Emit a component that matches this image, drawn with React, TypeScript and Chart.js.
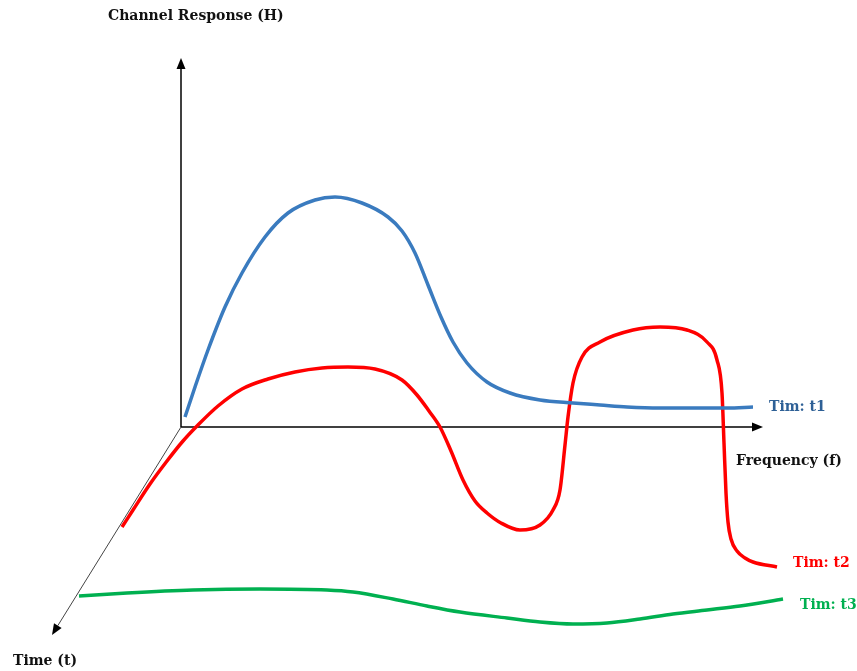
import React, { useEffect, useRef } from "react";
import { Chart, registerables } from "chart.js";

Chart.register(...registerables);

// Coordinates: frequency (x) and response (y), origin at the axes' corner
const t1Freq = [4, 14, 27, 44, 61, 84, 107, 134, 154, 181, 207, 221, 234, 247, 260, 272, 286, 306, 329, 359, 392, 419, 446, 479, 512, 546, 572];
const t1Resp = [10, 40, 77, 120, 154, 190, 214, 227, 230, 224, 210, 196, 174, 142, 110, 85, 64, 45, 34, 27, 24, 22, 20, 19, 19, 19, 20];

const t2Freq = [-59, -48, -31, -14, 2, 17, 37, 61, 87, 114, 141, 167, 194, 221, 236, 248, 259, 270, 282, 294, 306, 320, 339, 359, 372, 379, 384, 387, 392, 401, 419, 452, 479, 506, 526, 536, 541, 543, 545, 547, 550, 556, 564, 572, 596];
const t2Resp = [-100, -83, -57, -34, -14, 2, 21, 38, 48, 55, 59, 60, 58, 47, 32, 16, 0, -24, -53, -74, -86, -96, -103, -98, -83, -63, -18, 10, 44, 70, 85, 97, 100, 97, 85, 67, 34, -16, -66, -95, -112, -124, -131, -135, -140];

const t3Freq = [-102, -54, 12, 79, 146, 172, 212, 246, 279, 326, 359, 392, 426, 459, 492, 526, 559, 602];
const t3Resp = [-169, -166, -163, -162, -163, -165, -172, -179, -185, -191, -195, -197, -196, -192, -187, -183, -179, -172];

const seriesLabels = ["Tim: t1", "Tim: t2", "Tim: t3"];
const seriesColors = ["#3a7bbf", "#ff0000", "#00b050"];
const labelColors = ["#2e6096", "#ff0000", "#00b050"];

// Axis end points (in data units)
const yAxisEnd = { x: 0, y: 369 };
const xAxisEnd = { x: 582, y: 0 };
const tAxisEnd = { x: -129, y: -208 };

const toPoints = (xs: number[], ys: number[]) => xs.map((x, i) => ({ x, y: ys[i] }));

function arrow(ctx: CanvasRenderingContext2D, x0: number, y0: number, x1: number, y1: number, color: string, lw: number) {
  const ang = Math.atan2(y1 - y0, x1 - x0);
  const len = 11;
  const half = 4.5;
  const bx = x1 - len * Math.cos(ang);
  const by = y1 - len * Math.sin(ang);
  ctx.save();
  ctx.strokeStyle = color;
  ctx.lineWidth = lw;
  ctx.beginPath();
  ctx.moveTo(x0, y0);
  ctx.lineTo(bx, by);
  ctx.stroke();
  ctx.fillStyle = "#000";
  ctx.beginPath();
  ctx.moveTo(x1, y1);
  ctx.lineTo(bx + half * Math.sin(ang), by - half * Math.cos(ang));
  ctx.lineTo(bx - half * Math.sin(ang), by + half * Math.cos(ang));
  ctx.closePath();
  ctx.fill();
  ctx.restore();
}

const axesPlugin = {
  id: "axes3d",
  beforeDatasetsDraw(chart: any) {
    const { ctx, scales } = chart;
    const sx = scales.x;
    const sy = scales.y;
    const ox = sx.getPixelForValue(0);
    const oy = sy.getPixelForValue(0);
    arrow(ctx, ox, oy, sx.getPixelForValue(yAxisEnd.x), sy.getPixelForValue(yAxisEnd.y), "#000", 1.5);
    arrow(ctx, ox, oy, sx.getPixelForValue(xAxisEnd.x), sy.getPixelForValue(xAxisEnd.y), "#000", 1.5);
    arrow(ctx, ox, oy, sx.getPixelForValue(tAxisEnd.x), sy.getPixelForValue(tAxisEnd.y), "#444", 1);
  },
  afterDatasetsDraw(chart: any) {
    const { ctx } = chart;
    ctx.save();
    ctx.font = "bold 14px 'DejaVu Serif', serif";
    ctx.textBaseline = "middle";
    ctx.textAlign = "left";
    ctx.fillStyle = "#111";
    ctx.fillText("Channel Response (H)", 108, 16);
    ctx.fillText("Frequency (f)", 736, 461);
    ctx.fillText("Time (t)", 13, 661);
    ctx.fillStyle = labelColors[0];
    ctx.fillText(seriesLabels[0], 769, 407);
    ctx.fillStyle = labelColors[1];
    ctx.fillText(seriesLabels[1], 793, 563);
    ctx.fillStyle = labelColors[2];
    ctx.fillText(seriesLabels[2], 800, 605);
    ctx.restore();
  },
};

export default function App() {
  const ref = useRef<HTMLCanvasElement>(null);
  useEffect(() => {
    if (!ref.current) return;
    const mk = (i: number, xs: number[], ys: number[]) => ({
      label: seriesLabels[i],
      data: toPoints(xs, ys),
      borderColor: seriesColors[i],
      backgroundColor: seriesColors[i],
      borderWidth: 3.5,
      pointRadius: 0,
      cubicInterpolationMode: "monotone" as const,
      fill: false,
      borderCapStyle: "butt" as const,
    });
    const chart = new Chart(ref.current, {
      type: "line",
      data: {
        datasets: [mk(0, t1Freq, t1Resp), mk(1, t2Freq, t2Resp), mk(2, t3Freq, t3Resp)],
      },
      options: {
        responsive: false,
        animation: false,
        layout: { padding: 0 },
        plugins: { legend: { display: false }, tooltip: { enabled: false }, title: { display: false } },
        scales: {
          x: { type: "linear", display: false, min: -181, max: 676 },
          y: { type: "linear", display: false, min: -244, max: 427 },
        },
      },
      plugins: [axesPlugin],
    });
    return () => chart.destroy();
  }, []);
  return (
    <div style={{ position: "absolute", left: 0, top: 0, width: 857, height: 671, background: "#fff" }}>
      <canvas ref={ref} width={857} height={671} />
    </div>
  );
}
